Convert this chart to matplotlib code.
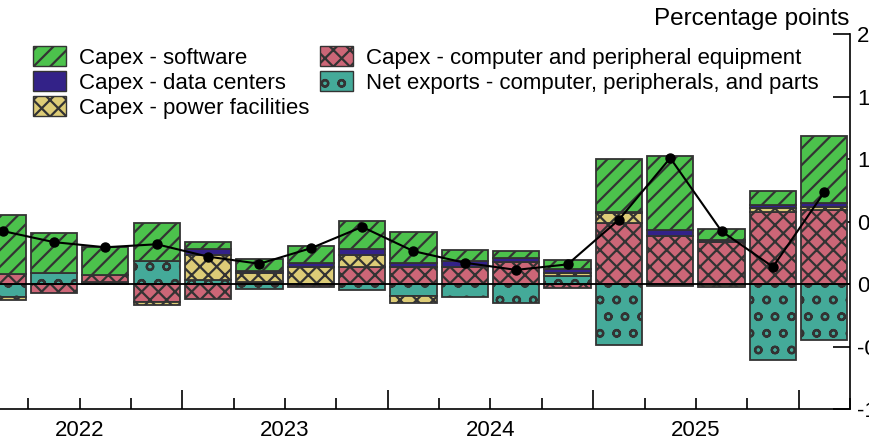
import matplotlib
matplotlib.use("Agg")
import matplotlib.pyplot as plt
import numpy as np
import pandas as pd
from matplotlib.patches import Patch

plt.rcParams["font.family"] = ["Liberation Sans", "DejaVu Sans"]
plt.rcParams["hatch.linewidth"] = 1.6

quarters = [str(q) for q in pd.period_range("2022Q1", periods=17, freq="Q")]
years = ["2022", "2023", "2024", "2025"]

software = [0.474, 0.315, 0.218, 0.302, 0.061, 0.100, 0.141, 0.226, 0.253,
            0.088, 0.061, 0.074, 0.427, 0.592, 0.088, 0.114, 0.538]
data_centers = [0.0, 0.0, 0.0, 0.0, 0.046, 0.012, 0.027, 0.046, 0.027,
                0.046, 0.032, 0.032, 0.005, 0.048, 0.018, 0.026, 0.027]
power = [-0.026, 0.0, 0.0, -0.026, 0.200, 0.072, 0.138, 0.099, -0.061,
         0.0, 0.0, 0.019, 0.080, -0.006, -0.010, 0.027, 0.026]
computers = [0.078, -0.070, 0.056, -0.142, -0.120, 0.018, -0.010, 0.134, 0.138,
             0.138, 0.174, -0.034, 0.490, 0.384, 0.336, 0.578, 0.592]
net_exports = [-0.102, 0.090, 0.020, 0.184, 0.032, -0.040, -0.010, -0.048, -0.094,
               -0.102, -0.154, 0.066, -0.488, -0.010, -0.010, -0.608, -0.448]

# stacking order from zero outwards
series = [
    ("Net exports - computer, peripherals, and parts", net_exports, "#44AA99", "o"),
    ("Capex - computer and peripheral equipment", computers, "#CC6677", "xx"),
    ("Capex - power facilities", power, "#DDCC77", "xx"),
    ("Capex - data centers", data_centers, "#332288", None),
    ("Capex - software", software, "#4CC24C", "//"),
]
edge = "#333333"

fig = plt.figure(figsize=(8.7, 4.44), dpi=100)
ax = fig.add_axes([0.0, 0.0788, 0.977, 0.8446])

x = np.arange(len(quarters))
pos_base = np.zeros(len(x))
neg_base = np.zeros(len(x))
for name, vals, color, hatch in series:
    v = np.array(vals)
    bottom = np.where(v >= 0, pos_base, neg_base)
    ax.bar(x, v, bottom=bottom, width=0.9, color=color, edgecolor=edge,
           linewidth=1.3, hatch=hatch, zorder=2)
    pos_base += np.where(v > 0, v, 0)
    neg_base += np.where(v < 0, v, 0)

total = np.sum([np.array(s[1]) for s in series], axis=0)
ax.plot(x, total, color="black", lw=1.5, marker="o", ms=6.5, zorder=4)
ax.axhline(0, color="black", lw=1.3, zorder=3)

for side in ["top", "left"]:
    ax.spines[side].set_visible(False)
ax.spines["right"].set_linewidth(1.2)
ax.spines["bottom"].set_linewidth(1.2)

ax.yaxis.tick_right()
yt = np.arange(-1, 2.01, 0.5)
ax.set_yticks(yt)
ax.set_yticklabels([f"{t:.1f}" for t in yt])
ax.tick_params(axis="y", direction="in", length=12, width=1.2, labelsize=16, pad=5)

ax.set_xticks([3.5, 7.5, 11.5, 15.5])
ax.set_xticklabels([])
ax.set_xticks(np.arange(-0.5, 16.6, 1), minor=True)
ax.tick_params(axis="x", which="major", direction="in", length=14, width=1.2)
ax.tick_params(axis="x", which="minor", direction="in", length=8, width=1.2)

# limits after ticks, since set_xticks widens the view
ax.set_xlim(-0.051, 16.5)
ax.set_ylim(-1, 2)

for i, yr in enumerate(years):
    ax.text(1.5 + 4 * i, -0.03, yr, transform=ax.get_xaxis_transform(),
            ha="center", va="top", fontsize=16)

fig.text(849 / 870, 1 - 19 / 444, "Percentage points", ha="right", va="center",
         fontsize=17.5)

legend_order = [4, 3, 2, 1, 0]
handles = [Patch(facecolor=series[i][2], edgecolor=edge, hatch=series[i][3],
                 linewidth=1.0) for i in legend_order]
labels = [series[i][0] for i in legend_order]
fig.legend(handles, labels, ncol=2, frameon=False, fontsize=16,
           loc="upper left", bbox_to_anchor=(33 / 870, 1 - 46 / 444),
           borderpad=0, borderaxespad=0, handlelength=1.5, handleheight=1.0,
           handletextpad=0.55, columnspacing=0.5, labelspacing=0.12)

fig.savefig("out.png", dpi=100)
